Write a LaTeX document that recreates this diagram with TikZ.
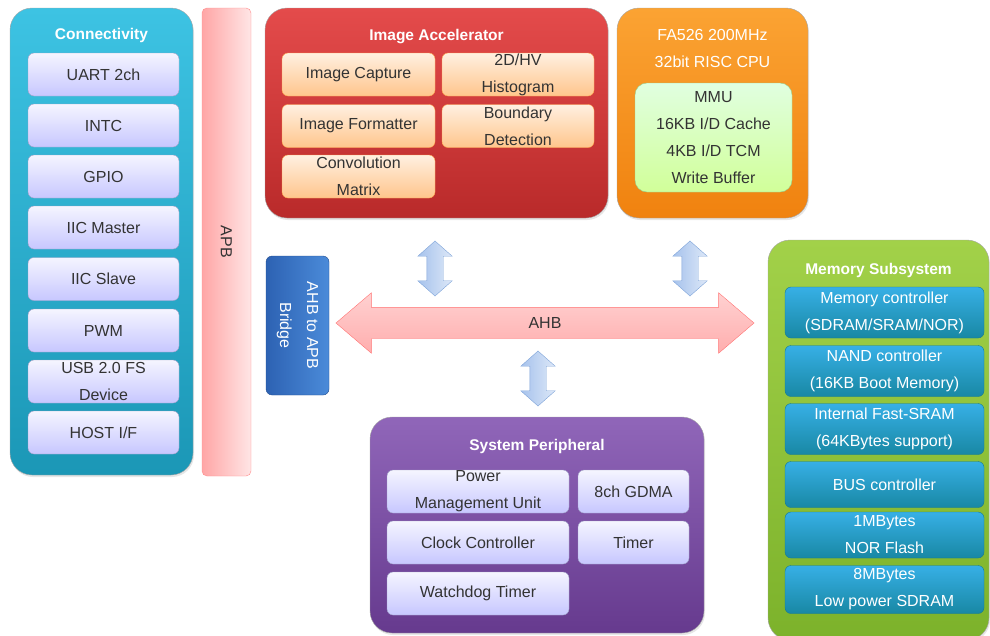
\documentclass[tikz,border=0pt]{standalone}
\usepackage{fontspec}
\setmainfont{Liberation Sans}
\usetikzlibrary{shapes.arrows,shadows}

\definecolor{connhi}{HTML}{3DC3E3}
\definecolor{connlo}{HTML}{1B97B6}
\definecolor{acchi}{HTML}{E44B4B}
\definecolor{acclo}{HTML}{B92A2A}
\definecolor{cpuhi}{HTML}{FBA333}
\definecolor{cpulo}{HTML}{F0820F}
\definecolor{memhi}{HTML}{A2D149}
\definecolor{memlo}{HTML}{7CB22B}
\definecolor{perhi}{HTML}{9066B9}
\definecolor{perlo}{HTML}{663A8E}
\definecolor{bridgelo}{HTML}{2D62B3}
\definecolor{bridgehi}{HTML}{4B8BD9}
\definecolor{arrowhi}{HTML}{DDE8F8}
\definecolor{arrowlo}{HTML}{A6C2EC}
\definecolor{arrowline}{HTML}{7EA3D8}
\definecolor{txt}{HTML}{333333}

\begin{document}
\begin{tikzpicture}[x=1pt,y=-1pt]
	\tikzstyle{every node}=[font=\fontsize{16}{27}\selectfont,align=center,inner sep=0pt,text=txt]
	\tikzstyle{outer}=[rounded corners=22pt,draw=black!35,drop shadow={opacity=0.2,shadow xshift=1pt,shadow yshift=-2pt}]
	\tikzstyle{title}=[font=\fontsize{15.5}{27}\selectfont\bfseries,text=white]
	\tikzstyle{bluebox}=[rounded corners=6pt,draw=blue!25!gray!60,top color=blue!4,bottom color=blue!22,minimum height=43pt]
	\tikzstyle{orangebox}=[rounded corners=6pt,draw=orange!70,top color=orange!12,bottom color=orange!45,minimum height=43pt]
	\tikzstyle{tealbox}=[rounded corners=6pt,draw=connlo!80!black,top color=connhi!90!blue,bottom color=connlo!90!black,text=white,minimum width=199pt]
	\tikzstyle{busarrow}=[draw=arrowline,left color=arrowlo,right color=arrowhi,double arrow,double arrow head extend=9pt,double arrow tip angle=97,minimum width=34pt,minimum height=55pt,rotate=90]

	\useasboundingbox (0,0) rectangle (990,635);

	% Connectivity
	\node[outer,top color=connhi,bottom color=connlo,minimum width=183pt,minimum height=467pt] (conn) at (101.5,241.5) {};
	\node[title] (conntitle) at (101.5,35) {Connectivity};
	\node[bluebox,minimum width=151pt] (uart) at (103.5,74.5) {UART 2ch};
	\node[bluebox,minimum width=151pt] (intc) at (103.5,125.5) {INTC};
	\node[bluebox,minimum width=151pt] (gpio) at (103.5,176.5) {GPIO};
	\node[bluebox,minimum width=151pt] (iicm) at (103.5,227.5) {IIC Master};
	\node[bluebox,minimum width=151pt] (iics) at (103.5,279) {IIC Slave};
	\node[bluebox,minimum width=151pt] (pwm) at (103.5,330.5) {PWM};
	\node[bluebox,minimum width=151pt] (usb) at (103.5,381.5) {USB 2.0 FS\\Device};
	\node[bluebox,minimum width=151pt] (host) at (103.5,432.5) {HOST I/F};

	% APB and bridge
	\node[rounded corners=5pt,draw=red!45,left color=red!35,right color=red!10,minimum width=49pt,minimum height=468pt] (apb) at (226.5,242) {};
	\node[rotate=-90] (apblabel) at (apb) {APB};
	\node[rounded corners=6pt,draw=bridgelo!80!black,left color=bridgelo,right color=bridgehi,minimum width=63pt,minimum height=139pt] (bridge) at (297.5,325.5) {};
	\node[rotate=-90,text=white] (bridgelabel) at (bridge) {AHB to APB\\Bridge};

	% Image Accelerator
	\node[outer,top color=acchi,bottom color=acclo,minimum width=343pt,minimum height=210pt] (acc) at (436.5,113) {};
	\node[title] (acctitle) at (436.5,37) {Image Accelerator};
	\node[orangebox,minimum width=153pt] (capture) at (358.5,74.5) {Image Capture};
	\node[orangebox,minimum width=152pt] (histo) at (518,74.5) {2D/HV\\Histogram};
	\node[orangebox,minimum width=153pt] (format) at (358.5,126) {Image Formatter};
	\node[orangebox,minimum width=152pt] (bound) at (518,126) {Boundary\\Detection};
	\node[orangebox,minimum width=153pt] (conv) at (358.5,176.5) {Convolution\\Matrix};

	% CPU
	\node[outer,top color=cpuhi,bottom color=cpulo,minimum width=191pt,minimum height=210pt] (cpu) at (712.5,113) {};
	\node[title,font=\fontsize{16}{27}\selectfont] (cputitle) at (712.5,48.5) {FA526 200MHz\\32bit RISC CPU};
	\node[rounded corners=12pt,draw=green!40!gray!60,top color=green!12!white,bottom color=green!45!yellow!40,minimum width=157pt,minimum height=109pt] (core) at (713.5,137.5) {MMU\\16KB I/D Cache\\4KB I/D TCM\\Write Buffer};

	% buses
	\node[double arrow,draw=red!55,top color=red!18,bottom color=red!32,minimum width=60pt,minimum height=418pt,double arrow head extend=14.5pt,double arrow tip angle=81] (ahb) at (545,323) {\rule[-10pt]{0pt}{31pt}AHB};
	\node[busarrow] (accbus) at (435,268.5) {\rule[-8pt]{0pt}{16pt}};
	\node[busarrow] (cpubus) at (690,268.5) {\rule[-8pt]{0pt}{16pt}};
	\node[busarrow] (perbus) at (538,378.5) {\rule[-8pt]{0pt}{16pt}};

	% System Peripheral
	\node[outer,top color=perhi,bottom color=perlo,minimum width=334pt,minimum height=216pt] (per) at (537,525) {};
	\node[title] (pertitle) at (537,446) {System Peripheral};
	\node[bluebox,minimum width=182pt] (pmu) at (478,491.5) {Power\\Management Unit};
	\node[bluebox,minimum width=111pt] (gdma) at (633.5,491.5) {8ch GDMA};
	\node[bluebox,minimum width=182pt] (clock) at (478,542.5) {Clock Controller};
	\node[bluebox,minimum width=111pt] (timer) at (633.5,542.5) {Timer};
	\node[bluebox,minimum width=182pt] (wdt) at (478,593.5) {Watchdog Timer};

	% Memory Subsystem
	\node[outer,top color=memhi,bottom color=memlo,minimum width=221pt,minimum height=400pt] (mem) at (878.5,440) {};
	\node[title] (memtitle) at (878.5,270) {Memory Subsystem};
	\node[tealbox,minimum height=51pt] (memctl) at (884.5,312.5) {Memory controller\\(SDRAM/SRAM/NOR)};
	\node[tealbox,minimum height=51pt] (nand) at (884.5,371) {NAND controller\\(16KB Boot Memory)};
	\node[tealbox,minimum height=51pt] (sram) at (884.5,429) {Internal Fast-SRAM\\(64KBytes support)};
	\node[tealbox,minimum height=46pt] (busctl) at (884.5,484.5) {BUS controller};
	\node[tealbox,minimum height=46pt] (nor) at (884.5,535) {1MBytes\\NOR Flash};
	\node[tealbox,minimum height=48pt] (sdram) at (884.5,589.5) {8MBytes\\Low power SDRAM};
\end{tikzpicture}
\end{document}
